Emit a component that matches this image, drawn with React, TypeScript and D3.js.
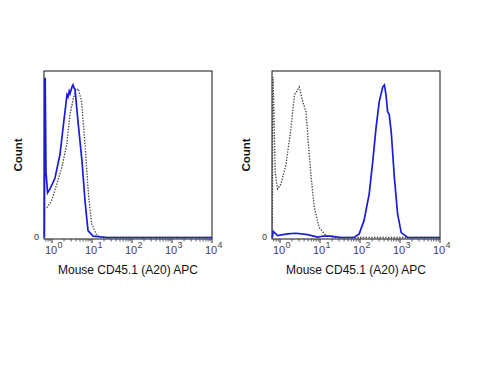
import React from "react";
import * as d3 from "d3";

// data: [log10(APC intensity), relative count (0-100)]
const leftBlue: [number, number][] = [
  [-0.19, 0], [-0.18, 97.6], [-0.17, 97], [-0.15, 40], [-0.11, 27.3], [-0.05, 29.7], [0.075, 36.4],
  [0.2, 50.9], [0.275, 66.7], [0.34, 80], [0.375, 87.3], [0.4, 86], [0.43, 89.5], [0.45, 88],
  [0.5, 92.1], [0.525, 93.3], [0.56, 91], [0.575, 90.9], [0.65, 70.9], [0.75, 46.7],
  [0.825, 22.4], [0.9, 4.2], [1.025, 0.8], [1.375, 0], [4, 0],
];
const leftGray: [number, number][] = [
  [-0.13, 18.2], [-0.01, 22.4], [0.12, 32.7], [0.24, 42.4], [0.37, 57], [0.45, 75.2],
  [0.53, 84.8], [0.6, 90.3], [0.66, 90.9], [0.74, 83], [0.825, 57], [0.91, 26.7],
  [0.99, 8.5], [1.12, 1.2], [1.27, 0], [4, 0],
];
const rightBlue: [number, number][] = [
  [-0.19, 0], [-0.17, 3.8], [-0.06, 1.2], [0.19, 2.2], [0.4, 2.6], [0.69, 1.8], [0.94, 0.2],
  [1.1, 0.9], [1.27, 0.8], [1.52, 0], [1.85, 0], [1.98, 2.2], [2.1, 10.3], [2.23, 26.7],
  [2.32, 46.7], [2.4, 66.7], [2.48, 83], [2.57, 92.1], [2.61, 93.3], [2.65, 87.3],
  [2.69, 77], [2.73, 75.2], [2.78, 64.8], [2.86, 36.4], [2.94, 14.5], [3.03, 3], [3.19, 0], [4, 0],
];
const rightGray: [number, number][] = [
  [-0.19, 0], [-0.18, 98.2], [-0.17, 96], [-0.12, 40], [-0.06, 29.7], [0.025, 32.7], [0.15, 44.8],
  [0.275, 66.7], [0.36, 87.3], [0.44, 90.3], [0.48, 92.1], [0.57, 83], [0.65, 77],
  [0.71, 57], [0.78, 36.4], [0.86, 18.2], [0.98, 6.1], [1.15, 1.2], [1.35, 0], [4, 0],
];
const decades = [0, 1, 2, 3, 4];
const xTitle = "Mouse CD45.1 (A20) APC";
const yTitle = "Count";

const BLUE = "#1c1cd6";
const FONT = "Arial, Liberation Sans, sans-serif";

function Panel({ x0, blue, gray }: { x0: number; blue: [number, number][]; gray: [number, number][] }) {
  const left = x0, right = x0 + 168, top = 71, bottom = 239;
  const x = d3.scaleLinear().domain([-0.2, 4]).range([left, right]);
  const y = d3.scaleLinear().domain([0, 100]).range([bottom - 1.5, top + 3]);
  const line = d3.line<[number, number]>().x(d => x(d[0])).y(d => y(d[1]));
  const minor: number[] = [];
  for (let dec = -1; dec < 4; dec++) for (let k = 2; k <= 9; k++) {
    const v = dec + Math.log10(k);
    if (v >= -0.2 && v <= 4) minor.push(v);
  }
  return (
    <g>
      <rect x={left} y={top} width={right - left} height={bottom - top} fill="white" stroke="#111" strokeWidth={1} />
      <path d={line(gray) || ""} fill="none" stroke="#444" strokeWidth={1.3} strokeDasharray="1.4,1.4" />
      <path d={line(blue) || ""} fill="none" stroke={BLUE} strokeWidth={1.7} />
      {minor.map((v, i) => (
        <line key={i} x1={x(v)} x2={x(v)} y1={bottom} y2={bottom + 2.5} stroke="#333" strokeWidth={0.8} />
      ))}
      {decades.map(dd => (
        <g key={dd}>
          <line x1={x(dd)} x2={x(dd)} y1={bottom} y2={bottom + 4} stroke="#333" strokeWidth={1} />
          <text x={x(dd) - 1} y={bottom + 15} fontSize={11} fill="#444" textAnchor="middle" fontFamily={FONT}>10</text>
          <text x={x(dd) + 5.5} y={bottom + 9} fontSize={9} fill="#444" textAnchor="start" fontFamily={FONT}>{dd}</text>
        </g>
      ))}
      <text x={left - 5} y={bottom + 1} fontSize={9} fill="#333" textAnchor="end" fontFamily={FONT}>0</text>
      <text transform={`translate(${left - 22},${155}) rotate(-90)`} fontSize={11.5} fontWeight="bold" fill="#111" textAnchor="middle" fontFamily={FONT}>{yTitle}</text>
      <text x={(left + right) / 2} y={274} fontSize={12} fill="#111" textAnchor="middle" fontFamily={FONT}>{xTitle}</text>
    </g>
  );
}

export default function App() {
  return (
    <svg width={500} height={375} style={{ position: "absolute", left: 0, top: 0, background: "white" }}>
      <rect width={500} height={375} fill="white" />
      <Panel x0={44} blue={leftBlue} gray={leftGray} />
      <Panel x0={272} blue={rightBlue} gray={rightGray} />
    </svg>
  );
}
